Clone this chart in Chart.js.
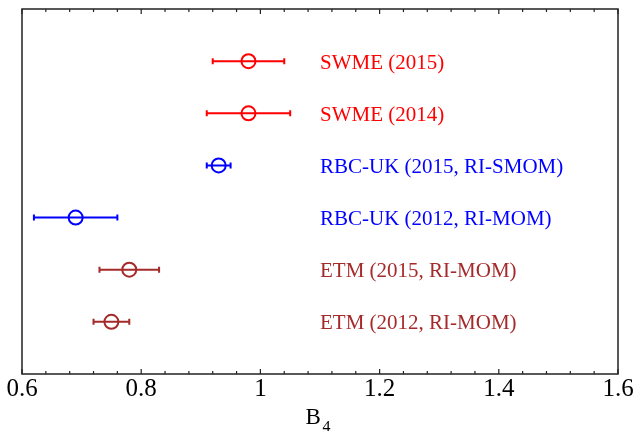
<!DOCTYPE html>
<html>
<head>
<meta charset="utf-8">
<script src="https://cdn.jsdelivr.net/npm/chart.js@4"></script>
<style>
  html, body { margin: 0; padding: 0; background: #fff; }
  #wrap { width: 641px; height: 431px; }
</style>
</head>
<body>
<div id="wrap"><canvas id="myChart" width="641" height="431"></canvas></div>
<script>
// Data
const names = [
    'SWME (2015)',
    'SWME (2014)',
    'RBC-UK (2015, RI-SMOM)',
    'RBC-UK (2012, RI-MOM)',
    'ETM (2015, RI-MOM)',
    'ETM (2012, RI-MOM)'
];
const centers = [0.98, 0.98, 0.93, 0.69, 0.78, 0.75];
const errLow  = [0.92, 0.91, 0.91, 0.62, 0.73, 0.72];
const errHigh = [1.04, 1.05, 0.95, 0.76, 0.83, 0.78];
const rows    = [6, 5, 4, 3, 2, 1];
const colors  = ['#ff0000', '#ff0000', '#0000ff', '#0000ff', '#a52a2a', '#a52a2a'];
const xTicks  = [0.6, 0.8, 1, 1.2, 1.4, 1.6];

const serif = "'Liberation Serif', 'DejaVu Serif', serif";

// error bars, frame, inward ticks, row labels and the B_4 title
const extras = {
    id: 'extras',
    beforeDatasetsDraw(chart) {
        const ctx = chart.ctx;
        const xs = chart.scales.x, ys = chart.scales.y;
        ctx.save();
        ctx.lineWidth = 2;
        centers.forEach((c, i) => {
            const y = ys.getPixelForValue(rows[i]);
            const x0 = xs.getPixelForValue(errLow[i]);
            const x1 = xs.getPixelForValue(errHigh[i]);
            ctx.strokeStyle = colors[i];
            ctx.beginPath();
            ctx.moveTo(x0, y); ctx.lineTo(x1, y);
            ctx.moveTo(x0, y - 3); ctx.lineTo(x0, y + 3);
            ctx.moveTo(x1, y - 3); ctx.lineTo(x1, y + 3);
            ctx.stroke();
        });
        ctx.restore();
    },
    afterDraw(chart) {
        const ctx = chart.ctx;
        const a = chart.chartArea;
        const xs = chart.scales.x, ys = chart.scales.y;
        ctx.save();

        // frame
        ctx.strokeStyle = '#222';
        ctx.lineWidth = 1.5;
        ctx.strokeRect(a.left, a.top, a.right - a.left, a.bottom - a.top);

        // inward ticks, top and bottom
        ctx.lineWidth = 1.2;
        ctx.beginPath();
        for (let i = 0; i <= 25; i++) {
            const v = 0.6 + i * 0.04;
            const px = xs.getPixelForValue(v);
            const len = i % 5 === 0 ? 5 : 3;
            ctx.moveTo(px, a.bottom); ctx.lineTo(px, a.bottom - len);
            ctx.moveTo(px, a.top); ctx.lineTo(px, a.top + len);
        }
        ctx.stroke();

        // row labels
        ctx.font = '21px ' + serif;
        ctx.textAlign = 'left';
        ctx.textBaseline = 'alphabetic';
        const lx = xs.getPixelForValue(1.1);
        names.forEach((n, i) => {
            ctx.fillStyle = colors[i];
            ctx.fillText(n, lx, ys.getPixelForValue(rows[i]) + 7.5);
        });

        // axis title B with subscript 4
        ctx.fillStyle = '#000';
        const cx = (a.left + a.right) / 2;
        ctx.font = '23px ' + serif;
        ctx.fillText('B', cx - 14.5, 424);
        ctx.font = '16px ' + serif;
        ctx.fillText('4', cx + 2.5, 432);
        ctx.restore();
    }
};

const ctx = document.getElementById('myChart').getContext('2d');
const myChart = new Chart(ctx, {
    type: 'scatter',
    data: {
        datasets: [{
            data: centers.map((c, i) => ({ x: c, y: rows[i] })),
            pointStyle: 'circle',
            pointRadius: 7,
            pointHoverRadius: 7,
            pointBorderWidth: 2,
            pointBackgroundColor: 'rgba(0,0,0,0)',
            pointBorderColor: colors
        }]
    },
    options: {
        responsive: false,
        animation: false,
        devicePixelRatio: 1,
        layout: { padding: { left: 22, right: 23, top: 8, bottom: 27 } },
        plugins: { legend: { display: false }, tooltip: { enabled: false } },
        scales: {
            x: {
                type: 'linear',
                min: 0.6,
                max: 1.6,
                afterBuildTicks: axis => { axis.ticks = xTicks.map(v => ({ value: v })); },
                grid: { display: false, drawTicks: false },
                border: { display: false },
                ticks: {
                    padding: 0,
                    color: '#000',
                    font: { family: serif, size: 25 },
                    callback: v => String(Math.round(v * 10) / 10)
                }
            },
            y: {
                display: false,
                min: 0,
                max: 7
            }
        }
    },
    plugins: [extras]
});
</script>
</body>
</html>
